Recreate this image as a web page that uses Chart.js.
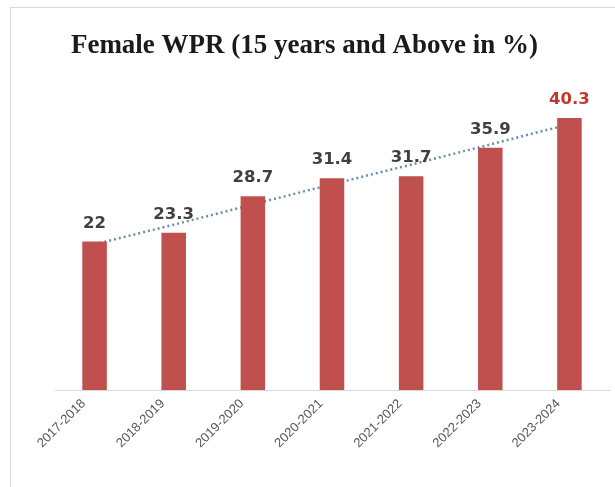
<!DOCTYPE html>
<html>
<head>
<meta charset="utf-8">
<script src="https://cdn.jsdelivr.net/npm/chart.js@4.4.1/dist/chart.umd.min.js"></script>
<style>
  html, body { margin: 0; padding: 0; background: #fff; overflow: hidden; }
  #frame { position: absolute; left: 10px; top: 7px; width: 640px; height: 520px; border: 1px solid #d9d9d9; }
  #wrap { position: absolute; left: 0; top: 0; width: 615px; height: 487px; }
</style>
</head>
<body>
<div id="frame"></div>
<div id="wrap"><canvas id="ourChart"></canvas></div>
<script>
const years = ['2017-2018', '2018-2019', '2019-2020', '2020-2021', '2021-2022', '2022-2023', '2023-2024'];
const wpr = [22, 23.3, 28.7, 31.4, 31.7, 35.9, 40.3];
// dotted trend line at each category
const trend = [21.6, 24.5, 27.5, 30.5, 33.4, 36.4, 39.4];

// value labels above the bars, last one in red
const barLabels = {
    id: 'barLabels',
    afterDatasetsDraw(chart) {
        const ctx = chart.ctx;
        const meta = chart.getDatasetMeta(0);
        ctx.save();
        ctx.font = 'bold 16.5px "DejaVu Sans", Verdana, sans-serif';
        ctx.textAlign = 'center';
        ctx.textBaseline = 'bottom';
        meta.data.forEach((bar, i) => {
            ctx.fillStyle = i === wpr.length - 1 ? '#c0392b' : '#404040';
            ctx.fillText(String(wpr[i]), bar.x, bar.y - 10);
        });
        ctx.restore();
    }
};

new Chart(document.getElementById('ourChart'), {
    type: 'bar',
    data: {
        labels: years,
        datasets: [
            {
                type: 'bar',
                label: 'Female WPR',
                data: wpr,
                backgroundColor: '#c0504d',
                categoryPercentage: 1,
                barPercentage: 0.31,
                order: 1
            },
            {
                type: 'line',
                label: 'Trend',
                data: trend,
                borderColor: '#6a8db0',
                borderWidth: 2.5,
                borderDash: [2, 3],
                pointRadius: 0,
                fill: false,
                order: 2
            }
        ]
    },
    options: {
        responsive: true,
        maintainAspectRatio: false,
        animation: false,
        layout: {
            padding: { left: 0, right: 6, bottom: 30 }
        },
        plugins: {
            legend: { display: false },
            tooltip: { enabled: false },
            title: {
                display: true,
                text: 'Female WPR (15 years and Above in %)',
                color: '#1a1a1a',
                font: { family: '"Liberation Serif", "DejaVu Serif", serif', size: 27, weight: 'bold' },
                padding: { top: 30, bottom: 24 }
            }
        },
        scales: {
            x: {
                grid: { display: false, drawTicks: false },
                border: { display: true, color: '#d9d9d9', width: 1 },
                ticks: {
                    color: '#595959',
                    font: { family: '"Liberation Sans", Arial, sans-serif', size: 13 },
                    maxRotation: 45,
                    minRotation: 45,
                    labelOffset: -11,
                    padding: 6
                }
            },
            y: {
                display: true,
                min: 0,
                max: 45,
                grid: { display: false, drawTicks: false },
                border: { display: false },
                ticks: { display: false },
                afterFit(axis) { axis.width = 55; }
            }
        }
    },
    plugins: [barLabels]
});
</script>
</body>
</html>
